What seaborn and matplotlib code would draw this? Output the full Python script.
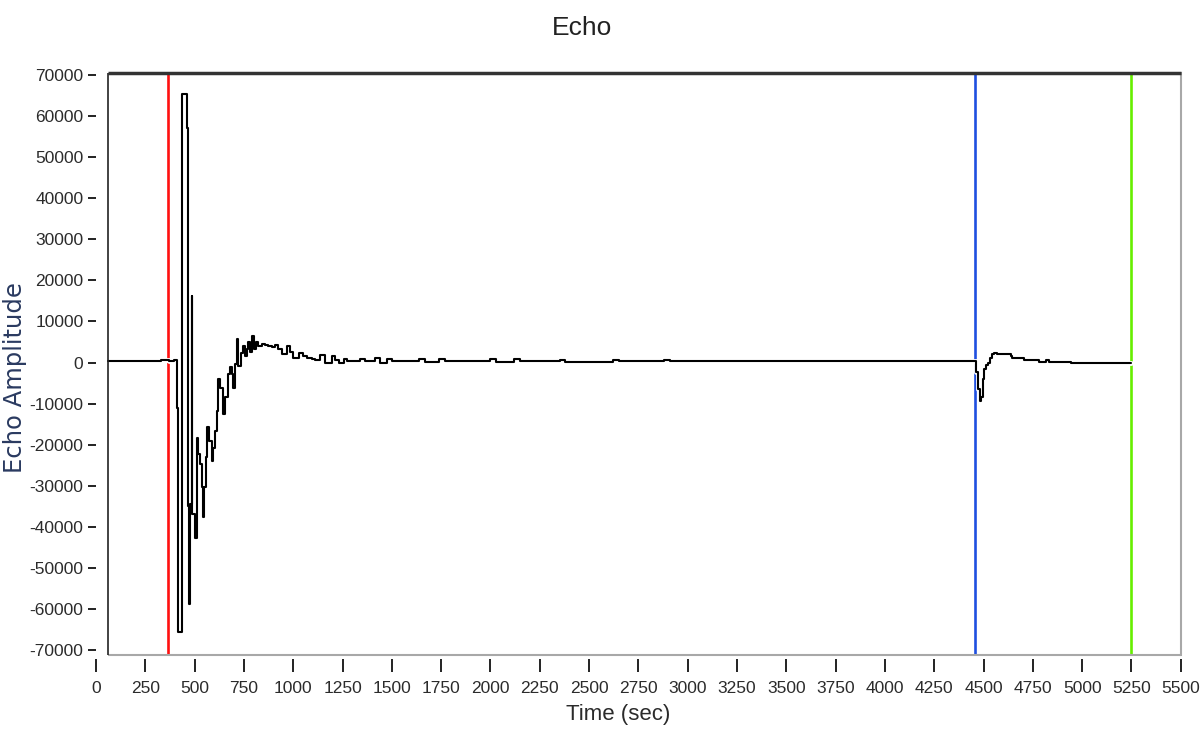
"""Echo trace with cursor markers, redrawn with seaborn."""

import matplotlib
matplotlib.use("Agg")
import matplotlib.pyplot as plt
import matplotlib.patheffects as pe
import pandas as pd
import seaborn as sns

time = [
    60, 120, 160, 250, 290, 330, 370, 395,
    409, 414, 438, 462, 467, 472, 478, 485, 489, 502, 511, 519,
    528, 536, 541, 550, 556, 565, 575, 587, 595, 604, 612, 621,
    629, 646, 654, 671, 680, 688, 697, 705, 714, 722, 736, 747,
    756, 765, 773, 781, 793, 803, 810, 823, 841, 857, 874, 891,
    908, 925, 942, 967, 984, 1001, 1027, 1052, 1069, 1094, 1111, 1136,
    1162, 1196, 1213, 1230, 1255, 1272, 1339, 1365, 1416, 1441, 1475, 1500,
    1640, 1670, 1740, 1770, 2000, 2030, 2120, 2150, 2350, 2380, 2620, 2650,
    2880, 2910, 4440, 4460, 4472, 4482, 4488, 4495, 4502, 4510, 4522, 4532,
    4544, 4553, 4570, 4595, 4637, 4646, 4705, 4781, 4815, 4830, 4942, 5250,
]
amplitude = [
    300, 500, 300, 500, 300, 600, 500, 700,
    -11000, -65500, 65500, 57200, -35000, -58800, -34500, 16100, -36900, -42600, -18300, -22300,
    -24800, -30400, -37700, -30400, -23100, -15800, -19100, -24000, -20700, -16600, -11800, -4100,
    -6100, -12600, -8500, -2800, -1200, -2800, -6100, -400, 5700, -800, 2400, 4000,
    1600, 3200, 4900, 2500, 6500, 3200, 4900, 4000, 4500, 4300, 4000, 3800,
    4300, 3200, 2000, 4000, 2500, 1200, 2400, 1500, 1200, 800, 600, 1800,
    0, 1600, 600, 0, 900, 300, 900, 300, 1200, 0, 900, 300,
    900, 200, 800, 300, 900, 200, 800, 300, 700, 200, 700, 300,
    600, 300, 300, -2400, -6500, -9300, -8500, -4100, -1600, -500, 0, 1200,
    2000, 2300, 2000, 2200, 1600, 1000, 700, 200, 600, 200, -200, -200,
]

# Cursor positions (sec) and their colours
cursor_times = [365, 4455, 5250]
cursor_colors = ["#ff1010", "#1f4fe0", "#66ee00"]

x_ticks = list(range(0, 5501, 250))
y_ticks = list(range(-70000, 70001, 10000))
y_limits = (-71200, 70500)

NARROW = ["Liberation Sans", "DejaVu Sans"]


def create_echo_plot(path: str = "out.png") -> None:
    """Draw the echo trace and save it as PNG."""
    sns.set_style("white")
    plt.rcParams["axes.unicode_minus"] = False

    df = pd.DataFrame({"time": time, "amplitude": amplitude})

    fig = plt.figure(figsize=(12, 7.44), dpi=100)
    ax = fig.add_axes([0.08, 0.1196, 0.904, 0.7823])

    # Cursors go under the trace
    for t, c in zip(cursor_times, cursor_colors):
        ax.axvline(t, color=c, lw=1.9, zorder=1)

    sns.lineplot(
        data=df, x="time", y="amplitude", ax=ax,
        color="black", lw=1.5, drawstyle="steps-post",
        sort=False, estimator=None, zorder=3,
        path_effects=[pe.Stroke(linewidth=3.5, foreground="white"), pe.Normal()],
    )

    ax.set_xlim(0, 5500)
    ax.set_ylim(*y_limits)
    ax.set_xticks(x_ticks)
    ax.set_yticks(y_ticks)

    # Frame starts where the trace starts, not at x=0
    for side in ["top", "left", "bottom"]:
        ax.spines[side].set_visible(False)
    ax.spines["right"].set_color("#a8a8a8")
    ax.spines["right"].set_linewidth(1.5)
    ax.spines["bottom"].set_position(("outward", 3))
    ax.hlines(y_limits[1], time[0], 5500, color="#333333", lw=2.5, zorder=4, clip_on=False)
    ax.hlines(y_limits[0], time[0], 5500, color="#a8a8a8", lw=1.5, zorder=4, clip_on=False)
    ax.vlines(time[0], *y_limits, color="#222222", lw=1.2, zorder=4, clip_on=False)

    ax.tick_params(axis="both", direction="out", colors="#222222", width=1.4,
                   left=True, bottom=True)
    ax.tick_params(axis="y", length=6, pad=3)
    ax.tick_params(axis="x", length=9, pad=7)
    for lab in ax.get_xticklabels() + ax.get_yticklabels():
        lab.set_fontfamily(NARROW)
        lab.set_fontsize(12.5)
        lab.set_color("#2b2b2b")

    ax.set_xlabel("Time (sec)", fontsize=16, color="#2b2b2b", family=NARROW)
    ax.set_ylabel("Echo Amplitude", fontsize=17.5, color="#2a3a60",
                  family=["DejaVu Sans"])
    ax.yaxis.set_label_coords(-0.064, 0.477)
    ax.xaxis.set_label_coords(0.481, -0.085)

    fig.text(0.485, 0.962, "Echo", ha="center", va="center", fontsize=19,
             color="#222222", family=NARROW)

    fig.savefig(path, dpi=100)
    plt.close(fig)


if __name__ == "__main__":
    create_echo_plot()
